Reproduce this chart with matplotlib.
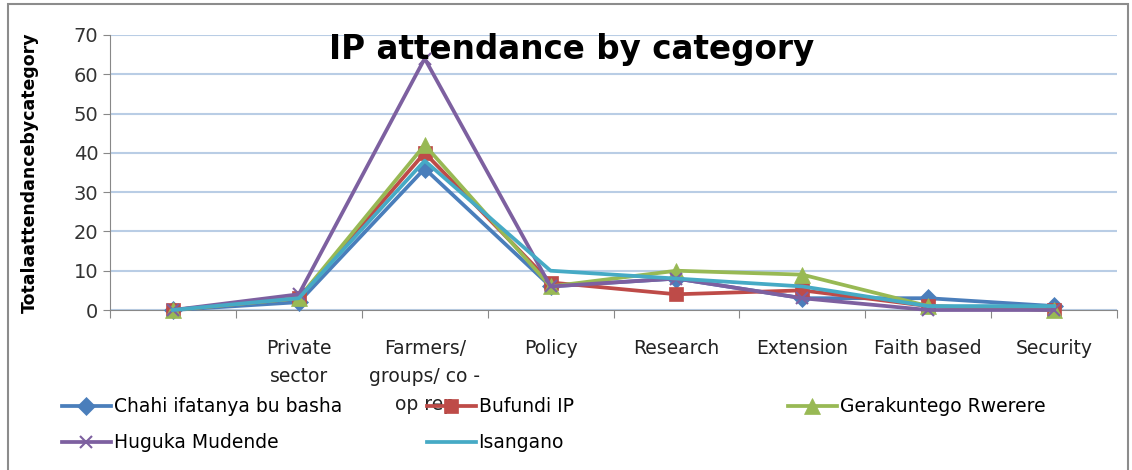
import matplotlib
matplotlib.use("Agg")
import matplotlib.pyplot as plt
from matplotlib.patches import Rectangle

plt.rcParams["font.family"] = ["DejaVu Sans"]

categories = ["", "Private\nsector", "Farmers/\ngroups/ co -\nop rep", "Policy",
              "Research", "Extension", "Faith based", "Security"]

chahi = [0, 2, 36, 6, 8, 3, 3, 1]
bufundi = [0, 3, 40, 7, 4, 5, 1, 0]
gerakuntego = [0, 3, 42, 6, 10, 9, 1, 0]
huguka = [0, 4, 64, 6, 8, 3, 0, 0]
isangano = [0, 3, 38, 10, 8, 6, 1, 1]

series = [
    ("Chahi ifatanya bu basha", chahi, "#4a7ebb", "D", 9),
    ("Bufundi IP", bufundi, "#be4b48", "s", 10),
    ("Gerakuntego Rwerere", gerakuntego, "#98b954", "^", 11),
    ("Huguka Mudende", huguka, "#7d60a0", "x", 9),
    ("Isangano", isangano, "#46aac5", None, 0),
]

W, H = 1132, 470
fig = plt.figure(figsize=(W / 100, H / 100), dpi=100)
ax = fig.add_axes([110 / W, 1 - 310 / H, (1117 - 110) / W, (310 - 35) / H])

x = list(range(len(categories)))
lines = []
for name, vals, col, mk, ms in series:
    ln, = ax.plot(x, vals, color=col, lw=2.7, marker=mk, markersize=ms,
                  markeredgewidth=1.5 if mk == "x" else 0.5, markeredgecolor=col,
                  label=name, clip_on=False, zorder=3)
    lines.append(ln)

ax.set_xlim(-0.5, len(categories) - 0.5)
ax.set_ylim(0, 70)
ax.set_yticks(range(0, 71, 10))
ax.tick_params(axis="y", labelsize=14, colors="#333333", length=5, color="#888888")
# major ticks sit between categories, names go on minor ticks
ax.set_xticks([i - 0.5 for i in range(len(categories) + 1)])
ax.set_xticklabels([])
ax.set_xticks(x, minor=True)
ax.set_xticklabels(categories, minor=True, va="top", linespacing=1.6,
                   fontsize=13.5, color="#222222")
ax.tick_params(axis="x", which="major", length=6, color="#888888")
ax.tick_params(axis="x", which="minor", length=0, pad=21)
ax.grid(axis="y", color="#b9cde5", lw=1.5)
ax.set_axisbelow(True)
for s in ["top", "right"]:
    ax.spines[s].set_visible(False)
ax.spines["left"].set_color("#888888")
ax.spines["bottom"].set_color("#888888")

ax.set_ylabel("Totalaattendancebycategory", fontsize=12.5, fontweight="bold")
ax.yaxis.set_label_coords(-71 / (1117 - 110), 0.5)

fig.text(572 / W, 1 - 50 / H, "IP attendance by category", ha="center", va="center",
         fontsize=23.5, fontweight="bold")

# legend entries placed one by one, like the Excel layout
spots = [(62, 407), (427, 407), (788, 407), (62, 443), (427, 443)]
for ln, (lx, ly) in zip(lines, spots):
    fig.legend([ln], [ln.get_label()], loc="center left",
               bbox_to_anchor=(lx / W, 1 - ly / H), frameon=False, fontsize=13.5,
               handlelength=2.6, handletextpad=0.15, borderpad=0, borderaxespad=0)

fig.patches.append(Rectangle((8 / W, -0.01), (1128 - 8) / W, 1 - 4 / H + 0.01,
                             transform=fig.transFigure, fill=False,
                             edgecolor="#8c8c8c", lw=1.5))

fig.savefig("out.png", dpi=100)
